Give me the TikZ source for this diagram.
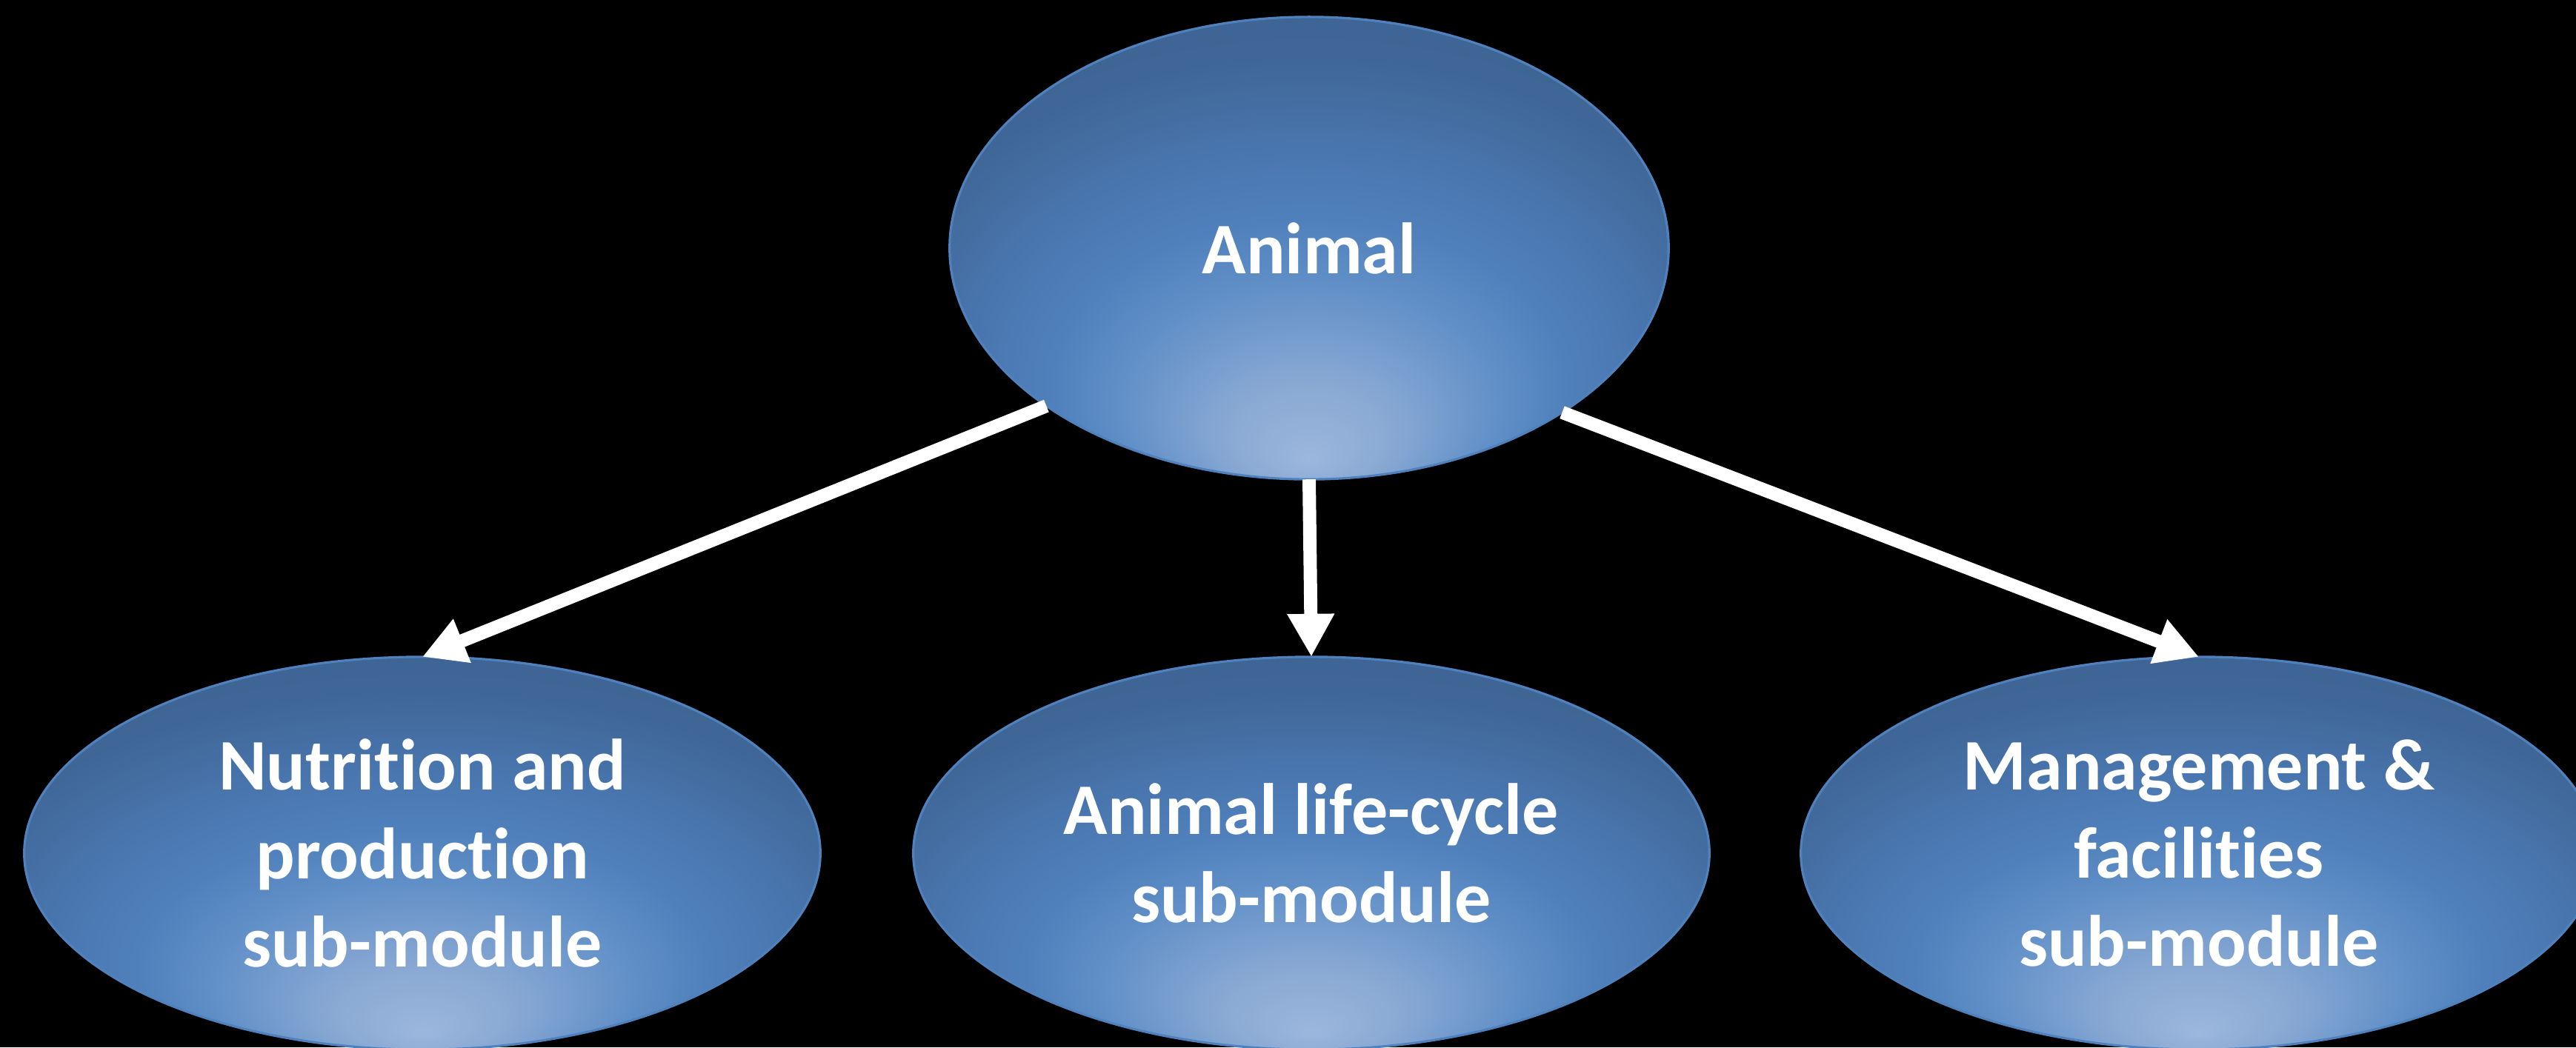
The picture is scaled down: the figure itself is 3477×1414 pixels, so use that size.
\documentclass[tikz,border=0pt]{standalone}
\usepackage{fontspec}
\setmainfont{Carlito}[Ligatures=NoCommon]
\usetikzlibrary{shapes.geometric,arrows.meta}

% bubble fill: light spot near the bottom, darker towards the rim
\definecolor{bubA}{HTML}{9BB7DC}
\definecolor{bubB}{HTML}{88A8D3}
\definecolor{bubC}{HTML}{6190C8}
\definecolor{bubD}{HTML}{5080BB}
\definecolor{bubE}{HTML}{4874AC}
\definecolor{bubF}{HTML}{3F6696}
\definecolor{bubG}{HTML}{3A5E8C}
\definecolor{bubEdge}{HTML}{4F81BD}
\pgfdeclareradialshading{bubbleshade}{\pgfpoint{0bp}{-23bp}}{%
  color(0bp)=(bubA); color(6bp)=(bubB); color(13bp)=(bubC);
  color(18bp)=(bubD); color(24bp)=(bubE); color(30bp)=(bubF);
  color(50bp)=(bubG)}

\tikzset{
  bubble/.style={ellipse, shading=bubbleshade, draw=bubEdge, line width=0.9pt,
    inner sep=0pt, outer sep=0pt, align=center, text=white,
    font=\bfseries\fontsize{27.9}{33.9}\selectfont},
  bigbubble/.style={bubble, minimum width=9.70cm, minimum height=6.24cm},
  smallbubble/.style={bubble, minimum width=10.74cm, minimum height=5.30cm},
  link/.style={draw=white, line width=5.1pt,
    -{Triangle[width=17pt,length=16.5pt]}}
}

\begin{document}
\begin{tikzpicture}[x=0.01cm, y=-0.01cm]
  \fill[black] (0,0) rectangle (3477,1414);
  \useasboundingbox (0,0) rectangle (3477,1414);

  \node[bigbubble]   (animal)  at (1767,335)  {Animal};
  \node[smallbubble] (nutri)   at (570,1152)  {Nutrition and\\production\\sub-module};
  \node[smallbubble] (cycle)   at (1770,1152) {Animal life-cycle\\sub-module};
  \node[smallbubble] (manage)  at (2968,1152) {Management \&\\facilities\\sub-module};

  \draw[link] (animal.211.5) -- (nutri.north);
  \draw[link] (animal.south) -- (cycle.north);
  \draw[link] (animal.327.7) -- (manage.north);
\end{tikzpicture}
\end{document}
